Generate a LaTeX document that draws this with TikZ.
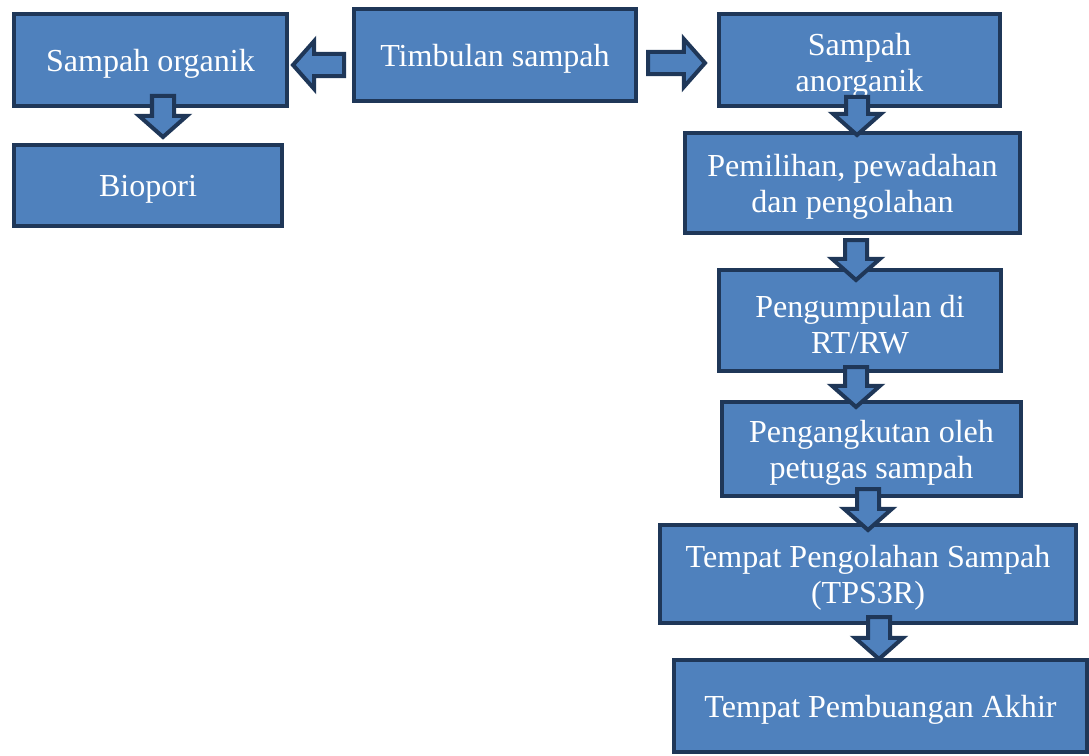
\documentclass[tikz,border=0pt]{standalone}
\usepackage{fontspec}
\setmainfont{Liberation Serif}
\usetikzlibrary{calc}

\definecolor{boxblue}{RGB}{79,129,189}
\definecolor{boxedge}{RGB}{31,55,88}

% one pixel of the layout
\newcommand\pxu{0.025cm}
% block arrow sizes
\newcommand\arrshaft{0.275cm}
\newcommand\arrhead{0.6cm}
\newcommand\arrlen{0.53cm}

% fat arrow from #1 (tail) to #2 (tip)
\newcommand\blockarrow[2]{%
  \coordinate (hb) at ($(#2)!\arrlen!(#1)$);
  \draw[blockarrow] ($(#1)!\arrshaft!90:(#2)$) -- ($(hb)!\arrshaft!90:(#2)$)
    -- ($(hb)!\arrhead!90:(#2)$) -- (#2) -- ($(hb)!\arrhead!-90:(#2)$)
    -- ($(hb)!\arrshaft!-90:(#2)$) -- ($(#1)!\arrshaft!-90:(#2)$) -- cycle;
}

\begin{document}
\begin{tikzpicture}[x=0.025cm,y=-0.025cm,
    boxtext/.style={text=white, align=center, inner sep=0pt,
      font=\fontsize{22.8}{25.8}\selectfont},
    box/.style n args={3}{draw=boxedge, fill=boxblue, line width=0.1cm,
      minimum width=#1*\pxu, minimum height=#2*\pxu,
      label={[boxtext, yshift=-0.1cm]center:{#3}}},
    blockarrow/.style={draw=boxedge, fill=boxblue, line width=0.1cm}]
  \useasboundingbox (0,0) rectangle (1089,755);

  % Left branch
  \node[box={273}{92}{Sampah organik}] (org) at (150.5,60) {};
  \node[box={268}{81}{Biopori}] (bio) at (148,185.5) {};

  % Source
  \node[box={282}{92}{Timbulan sampah}] (tim) at (495,55) {};

  % Right branch
  \node[box={281}{92}{}] (anorg) at (859.5,60) {};
  \node[boxtext] (anorgtext) at (859.5,66) {Sampah\\anorganik};
  \node[box={335}{100}{Pemilihan, pewadahan\\dan pengolahan}] (pilah) at (852.5,183) {};
  \node[box={282}{101}{Pengumpulan di\\RT/RW}] (kumpul) at (860,320.5) {};
  \node[box={299}{94}{Pengangkutan oleh\\petugas sampah}] (angkut) at (871.5,449) {};
  \node[box={416}{98}{Tempat Pengolahan Sampah\\(TPS3R)}] (tps) at (868,574) {};
  \node[box={413}{92}{Tempat Pembuangan Akhir}] (tpa) at (880.5,706) {};

  % Arrow ends
  \coordinate (tim-l) at (344,65);
  \coordinate (org-r) at (293,65);
  \coordinate (tim-r) at (648,63);
  \coordinate (anorg-l) at (705,63);
  \coordinate (org-s) at (163,96);
  \coordinate (bio-n) at (163,137);
  \coordinate (anorg-s) at (857,97);
  \coordinate (pilah-n) at (857,135);
  \coordinate (pilah-s) at (856,240);
  \coordinate (kumpul-n) at (856,280);
  \coordinate (kumpul-s) at (856,367);
  \coordinate (angkut-n) at (856,407);
  \coordinate (angkut-s) at (868,489);
  \coordinate (tps-n) at (868,530);
  \coordinate (tps-s) at (879,617);
  \coordinate (tpa-n) at (879,659);

  % Arrows
  \blockarrow{tim-l}{org-r}
  \blockarrow{tim-r}{anorg-l}
  \blockarrow{org-s}{bio-n}
  \blockarrow{anorg-s}{pilah-n}
  \blockarrow{pilah-s}{kumpul-n}
  \blockarrow{kumpul-s}{angkut-n}
  \blockarrow{angkut-s}{tps-n}
  \blockarrow{tps-s}{tpa-n}
\end{tikzpicture}
\end{document}
